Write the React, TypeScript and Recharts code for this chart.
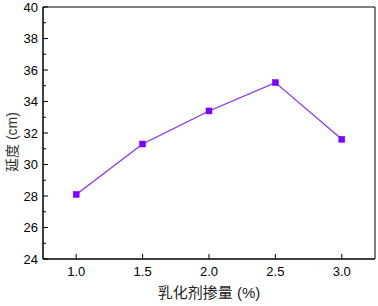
import React from 'react';
import { LineChart, Line, XAxis, YAxis, ReferenceArea, Label } from 'recharts';

// emulsifier dosage (%) vs ductility (cm)
const dosage = [1.0, 1.5, 2.0, 2.5, 3.0];
const ductility = [28.1, 31.3, 33.4, 35.2, 31.6];

const xTicks = [1.0, 1.5, 2.0, 2.5, 3.0];
const yTicks = [24, 25, 26, 27, 28, 29, 30, 31, 32, 33, 34, 35, 36, 37, 38, 39, 40];

const data = dosage.map((x, i) => ({ x, y: ductility[i] }));

const FONT = '"Liberation Sans", Arial, "Noto Sans CJK SC", sans-serif';
const LINE_COLOR = '#8B2BF0';
const MARK_COLOR = '#7F00FF';

const XTick = ({ x, y, payload }: any) => (
    <g>
        <line x1={x} x2={x} y1={y} y2={y - 5} stroke="#000" strokeWidth={1} />
        <text x={x} y={y + 17} textAnchor="middle" fontSize={13} fontFamily={FONT} fill="#000">
            {Number(payload.value).toFixed(1)}
        </text>
    </g>
);

const YTick = ({ x, y, payload }: any) => {
    const major = payload.value % 2 === 0;
    return (
        <g>
            <line x1={x} x2={x + (major ? 5 : 3)} y1={y} y2={y} stroke="#000" strokeWidth={1} />
            {major && (
                <text x={x - 5} y={y + 4.5} textAnchor="end" fontSize={13} fontFamily={FONT} fill="#000">
                    {payload.value}
                </text>
            )}
        </g>
    );
};

const SquareDot = ({ cx, cy }: any) => {
    if (cx == null || cy == null) return null;
    return <rect x={cx - 3} y={cy - 3} width={6} height={6} fill={MARK_COLOR} stroke={MARK_COLOR} strokeWidth={0.5} />;
};

export default function App() {
    return (
        <div style={{ position: 'absolute', left: 0, top: 0, background: '#fff' }}>
            <LineChart width={378} height={306} data={data} margin={{ top: 7, right: 3, left: 0, bottom: 0 }}>
                <XAxis
                    dataKey="x"
                    type="number"
                    domain={[0.75, 3.25]}
                    ticks={xTicks}
                    height={47}
                    tickSize={0}
                    tickMargin={0}
                    tickLine={false}
                    axisLine={{ stroke: '#000' }}
                    tick={<XTick />}
                    interval={0}
                >
                    <Label
                        content={({ viewBox }: any) => (
                            <text
                                x={viewBox.x + viewBox.width / 2}
                                y={viewBox.y + 39}
                                textAnchor="middle"
                                fontSize={15}
                                fontFamily={FONT}
                                fill="#222"
                            >
                                乳化剂掺量 (%)
                            </text>
                        )}
                    />
                </XAxis>
                <YAxis
                    type="number"
                    domain={[24, 40]}
                    ticks={yTicks}
                    width={43}
                    tickSize={0}
                    tickMargin={0}
                    tickLine={false}
                    axisLine={{ stroke: '#000' }}
                    tick={<YTick />}
                    interval={0}
                >
                    <Label
                        content={({ viewBox }: any) => {
                            const cx = viewBox.x + 12;
                            const cy = viewBox.y + viewBox.height / 2 + 9;
                            return (
                                <text
                                    x={cx}
                                    y={cy}
                                    transform={`rotate(-90 ${cx} ${cy})`}
                                    textAnchor="middle"
                                    dominantBaseline="central"
                                    fontSize={14}
                                    fontFamily={FONT}
                                    fill="#333"
                                >
                                    延度 (cm)
                                </text>
                            );
                        }}
                    />
                </YAxis>
                <ReferenceArea x1={0.75} x2={3.25} y1={24} y2={40} fill="none" stroke="#000" strokeWidth={1} ifOverflow="visible" />
                <Line
                    type="linear"
                    dataKey="y"
                    stroke={LINE_COLOR}
                    strokeWidth={1.2}
                    dot={<SquareDot />}
                    activeDot={false}
                    isAnimationActive={false}
                />
            </LineChart>
        </div>
    );
}
